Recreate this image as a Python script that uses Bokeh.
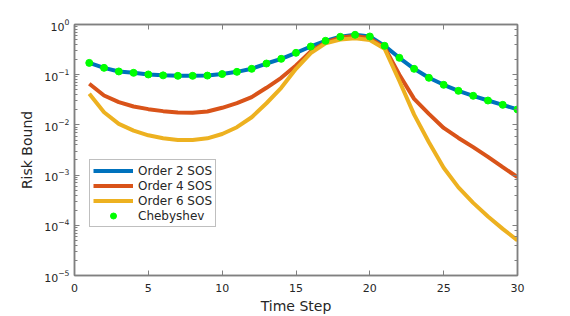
from bokeh.plotting import figure
from bokeh.models import (Range1d, LinearAxis, LogAxis, Legend, LegendItem, FixedTicker,
                          ColumnDataSource, CustomJSTickFormatter)
from bokeh.embed import file_html
from bokeh.resources import INLINE

steps = list(range(1, 31))
order2 = [0.172, 0.137, 0.116, 0.109, 0.101, 0.097, 0.095, 0.095, 0.096, 0.103,
          0.114, 0.131, 0.167, 0.207, 0.273, 0.365, 0.473, 0.569, 0.624, 0.577,
          0.376, 0.217, 0.131, 0.0867, 0.0629, 0.0477, 0.038, 0.0306, 0.0251, 0.0203]
order4 = [0.0659, 0.0385, 0.0284, 0.0233, 0.0206, 0.0188, 0.0177, 0.0175, 0.0185, 0.0219,
          0.0271, 0.0357, 0.0548, 0.0867, 0.153, 0.29, 0.44, 0.55, 0.59, 0.53,
          0.35, 0.10, 0.033, 0.0166, 0.0087, 0.0055, 0.0036, 0.0023, 0.00144, 0.00091]
order6 = [0.0416, 0.0179, 0.0105, 0.0077, 0.0062, 0.0054, 0.0050, 0.0050, 0.0054, 0.0066,
          0.009, 0.0142, 0.027, 0.0548, 0.131, 0.27, 0.42, 0.50, 0.53, 0.49,
          0.33, 0.075, 0.016, 0.0045, 0.0014, 0.00057, 0.00028, 0.00015, 0.000085, 0.00005]
chebyshev = [0.172, 0.137, 0.116, 0.109, 0.101, 0.097, 0.095, 0.095, 0.096, 0.103,
             0.114, 0.131, 0.167, 0.207, 0.273, 0.365, 0.473, 0.569, 0.624, 0.577,
             0.376, 0.217, 0.131, 0.0867, 0.0629, 0.0477, 0.038, 0.0306, 0.0251, 0.0203]
x_ticks = [0, 5, 10, 15, 20, 25, 30]

FONT = "DejaVu Sans"
AX = "#808080"
TXT = "#262626"

p = figure(width=570, height=316, output_backend="svg", toolbar_location=None,
           y_axis_type="log", x_range=Range1d(0, 30), y_range=Range1d(1e-5, 1),
           min_border_left=74, min_border_right=53, min_border_top=24, min_border_bottom=41)
p.grid.visible = False
p.outline_line_color = AX
p.outline_line_width = 1.5
p.background_fill_color = "white"
p.border_fill_color = "white"

def style(ax):
    ax.axis_line_color = AX
    ax.axis_line_width = 1.5
    ax.major_tick_line_color = AX
    ax.minor_tick_line_color = AX
    ax.major_tick_in = 5
    ax.major_tick_out = 0
    ax.minor_tick_in = 3
    ax.minor_tick_out = 0
    ax.major_label_text_font = FONT
    ax.major_label_text_font_size = "11px"
    ax.major_label_text_color = TXT
    ax.axis_label_text_font = FONT
    ax.axis_label_text_font_size = "14px"
    ax.axis_label_text_font_style = "normal"
    ax.axis_label_text_color = TXT

xa = p.xaxis[0]
style(xa)
xa.ticker = FixedTicker(ticks=x_ticks)
xa.minor_tick_line_color = None
xa.axis_label = "Time Step"
xa.major_label_standoff = 8
xa.axis_label_standoff = 3

ya = p.yaxis[0]
style(ya)
ya.ticker.desired_num_ticks = 6
ya.axis_label = "Risk Bound"
ya.major_label_standoff = 5
ya.axis_label_standoff = 6

blank = CustomJSTickFormatter(code="return ''")

top = LinearAxis(ticker=FixedTicker(ticks=x_ticks), formatter=blank)
style(top)
top.minor_tick_line_color = None
top.major_label_standoff = 0
p.add_layout(top, "above")

right = LogAxis(formatter=blank)
right.ticker.desired_num_ticks = 6
style(right)
right.major_label_standoff = 0
p.add_layout(right, "right")

src = ColumnDataSource(dict(x=steps, o2=order2, o4=order4, o6=order6, ch=chebyshev))
r2 = p.line("x", "o2", source=src, line_color="#0072BD", line_width=4)
r4 = p.line("x", "o4", source=src, line_color="#D95319", line_width=4)
r6 = p.line("x", "o6", source=src, line_color="#EDB120", line_width=4)
rc = p.scatter("x", "ch", source=src, size=7, fill_color="#00FF00", line_color="#00FF00")

legend = Legend(items=[
    LegendItem(label="Order 2 SOS", renderers=[r2]),
    LegendItem(label="Order 4 SOS", renderers=[r4]),
    LegendItem(label="Order 6 SOS", renderers=[r6]),
    LegendItem(label="Chebyshev", renderers=[rc]),
], location=(15, 48))
legend.label_text_font = FONT
legend.label_text_font_size = "12px"
legend.label_text_color = TXT
legend.glyph_width = 40
legend.glyph_height = 15
legend.label_height = 15
legend.label_standoff = 5
legend.spacing = 0
legend.padding = 3
legend.margin = 0
legend.border_line_color = AX
legend.border_line_width = 1.5
legend.background_fill_alpha = 1
p.add_layout(legend, "center")

open("out.html", "w").write(file_html(p, INLINE))
